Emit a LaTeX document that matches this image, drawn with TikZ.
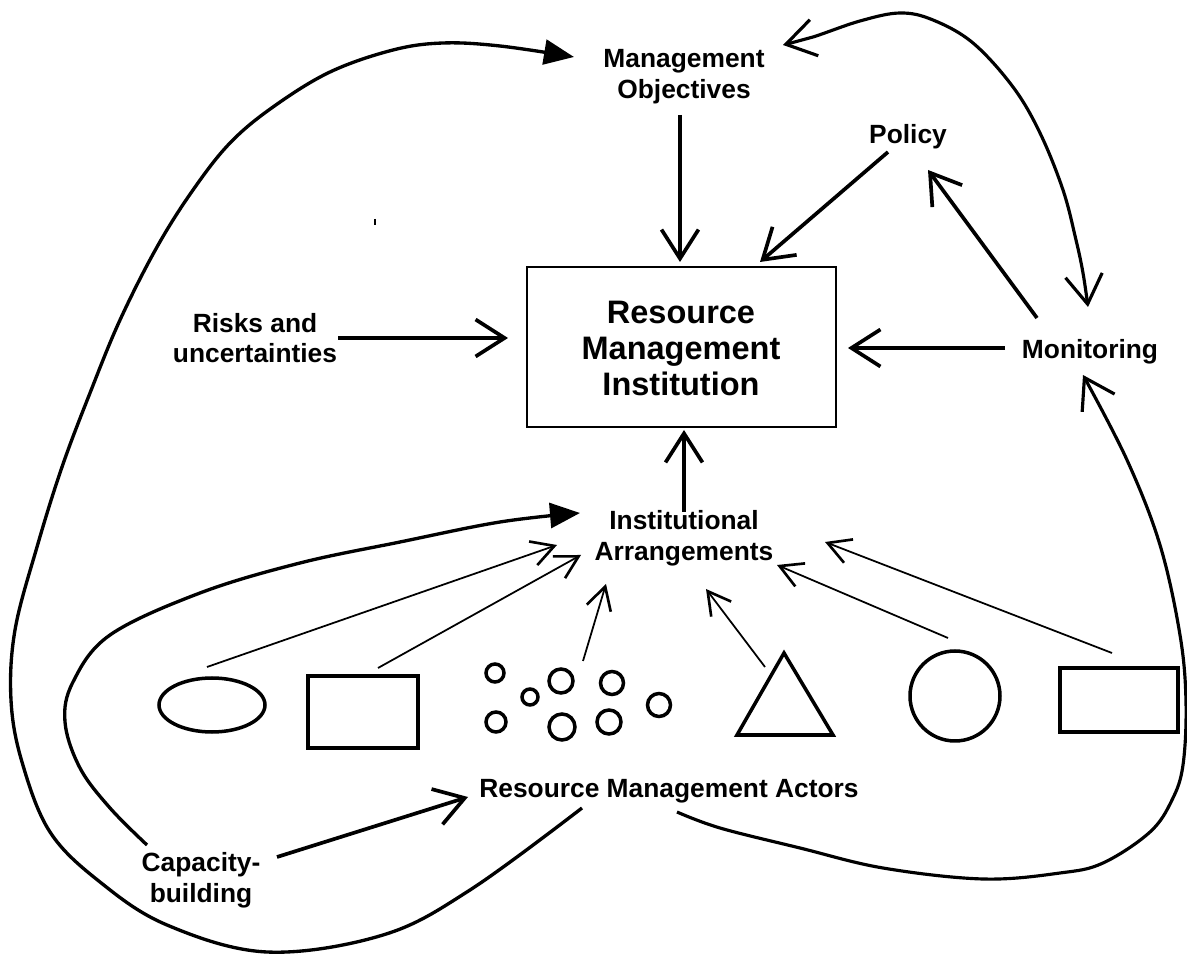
\documentclass[tikz,border=0pt]{standalone}
\usepackage{fontspec}
\setmainfont{Liberation Sans}
\usetikzlibrary{arrows.meta}
\begin{document}
\begin{tikzpicture}[x=0.02cm,y=-0.02cm,
  lbl/.style={font=\fontsize{15}{17.5}\selectfont\bfseries, align=center, inner sep=0pt},
  biglbl/.style={font=\fontsize{18.5}{20.5}\selectfont\bfseries, align=center, inner sep=0pt},
  bigarrow/.style={line width=2.1pt, -{Straight Barb[length=0.58cm,width=0.74cm]}},
  thinarrow/.style={line width=1.0pt, -{Straight Barb[length=0.45cm,width=0.5cm,line width=1.5pt]}},
  curvearrow/.style={line width=1.8pt, -{Straight Barb[length=0.58cm,width=0.74cm]}},
  bothcurve/.style={line width=1.8pt, {Straight Barb[length=0.58cm,width=0.74cm]}-{Straight Barb[length=0.58cm,width=0.74cm]}},
  fillcurve/.style={line width=1.9pt, -{Triangle[length=0.6cm,width=0.5cm]}},
  actor/.style={line width=2pt}
]
\useasboundingbox (0,0) rectangle (1187,955);

% text nodes
\node[lbl] (mo) at (684,77) {Management\\Objectives};
\node[lbl] (pol) at (908,137) {Policy};
\node[draw, line width=1.2pt, minimum width=6.18cm, minimum height=3.2cm, inner sep=0pt] (rmi) at (681.5,347) {};
\node[biglbl] (rmit) at (681,348) {Resource\\Management\\Institution};
\node[lbl] (risk) at (255,338) {Risks and\\uncertainties};
\node[lbl] (mon) at (1090,352) {Monitoring};
\node[lbl] (ia) at (684,538) {Institutional\\Arrangements};
\node[lbl] (rma) at (669,791) {Resource Management Actors};
\node[lbl] (cap) at (201,880) {Capacity-\\building};

% actor shapes
\draw[actor] (212,705) ellipse [x radius=1.06cm, y radius=0.54cm];
\draw[actor] (308,676) rectangle (418,748);
\draw[actor] (495,673) circle [radius=0.18cm];
\draw[actor] (530,697) circle [radius=0.16cm];
\draw[actor] (561,681) circle [radius=0.24cm];
\draw[actor] (612,683) circle [radius=0.23cm];
\draw[actor] (496,722) circle [radius=0.20cm];
\draw[actor] (562,727) circle [radius=0.26cm];
\draw[actor] (609,722) circle [radius=0.24cm];
\draw[actor] (659,705) circle [radius=0.23cm];
\draw[actor] (784,653) -- (737,735) -- (833,735) -- cycle;
\draw[actor] (955,696) circle [radius=0.9cm];
\draw[actor] (1060,668) rectangle (1178,732);
\draw[line width=1pt] (375,219) -- (375,225);

% endpoints
\coordinate (moS) at (680,115);
\coordinate (rmiMO) at (680,262);
\coordinate (polS) at (888,152);
\coordinate (rmiPol) at (760,262);
\coordinate (monP) at (1037,318);
\coordinate (polB) at (928,170);
\coordinate (monW) at (1005,348);
\coordinate (rmiE) at (848,348);
\coordinate (riskE) at (338,338);
\coordinate (rmiW) at (508,338);
\coordinate (iaN) at (684,512);
\coordinate (rmiS) at (684,430);
\coordinate (moE) at (783,45);
\coordinate (monN) at (1088,307);
\coordinate (moW) at (574,57);
\coordinate (rmaSW) at (582,808);
\coordinate (rmaSE) at (677,812);
\coordinate (monS) at (1083,375);
\coordinate (capN) at (147,845);
\coordinate (iaW) at (580,513);
\coordinate (capE) at (277,857);
\coordinate (rmaW) at (468,797);
\coordinate (s1) at (207,667);
\coordinate (t1) at (557,545);
\coordinate (s2) at (378,668);
\coordinate (t2) at (581,555);
\coordinate (s3) at (583,661);
\coordinate (t3) at (606,584);
\coordinate (s4) at (765,667);
\coordinate (t4) at (706,589);
\coordinate (s5) at (948,638);
\coordinate (t5) at (777,565);
\coordinate (s6) at (1112,653);
\coordinate (t6) at (825,542);

% straight connectors
\draw[bigarrow] (moS) -- (rmiMO);
\draw[bigarrow] (polS) -- (rmiPol);
\draw[bigarrow] (monP) -- (polB);
\draw[bigarrow] (monW) -- (rmiE);
\draw[bigarrow] (riskE) -- (rmiW);
\draw[bigarrow] (iaN) -- (rmiS);
\draw[bigarrow] (capE) -- (rmaW);
\draw[thinarrow] (s1) -- (t1);
\draw[thinarrow] (s2) -- (t2);
\draw[thinarrow] (s3) -- (t3);
\draw[thinarrow] (s4) -- (t4);
\draw[thinarrow] (s5) -- (t5);
\draw[thinarrow] (s6) -- (t6);

% curves
\draw[bothcurve] plot[smooth, tension=0.6] coordinates {(moE) (813,37) (860,21) (900,13) (933,20) (973,43) (1013,87) (1040,133) (1063,190) (1076,240) (1083,273) (monN)};
\draw[fillcurve] plot[smooth, tension=0.6] coordinates {(rmaSW) (470,890) (383,935) (267,952) (167,925) (100,882) (50,832) (22,762) (11,700) (15,630) (37,547) (62,467) (90,393) (120,320) (157,247) (193,190) (230,143) (273,107) (330,72) (393,50) (443,43) (500,46) (moW)};
\draw[fillcurve] plot[smooth, tension=0.6] coordinates {(capN) (110,808) (80,768) (65,722) (73,682) (110,635) (200,593) (300,563) (400,542) (500,522) (iaW)};
\draw[curvearrow] plot[smooth, tension=0.6] coordinates {(rmaSE) (720,828) (800,848) (883,868) (983,879) (1060,873) (1103,863) (1150,832) (1172,800) (1183,765) (1186,702) (1180,635) (1160,545) (1127,460) (monS)};
\end{tikzpicture}
\end{document}
